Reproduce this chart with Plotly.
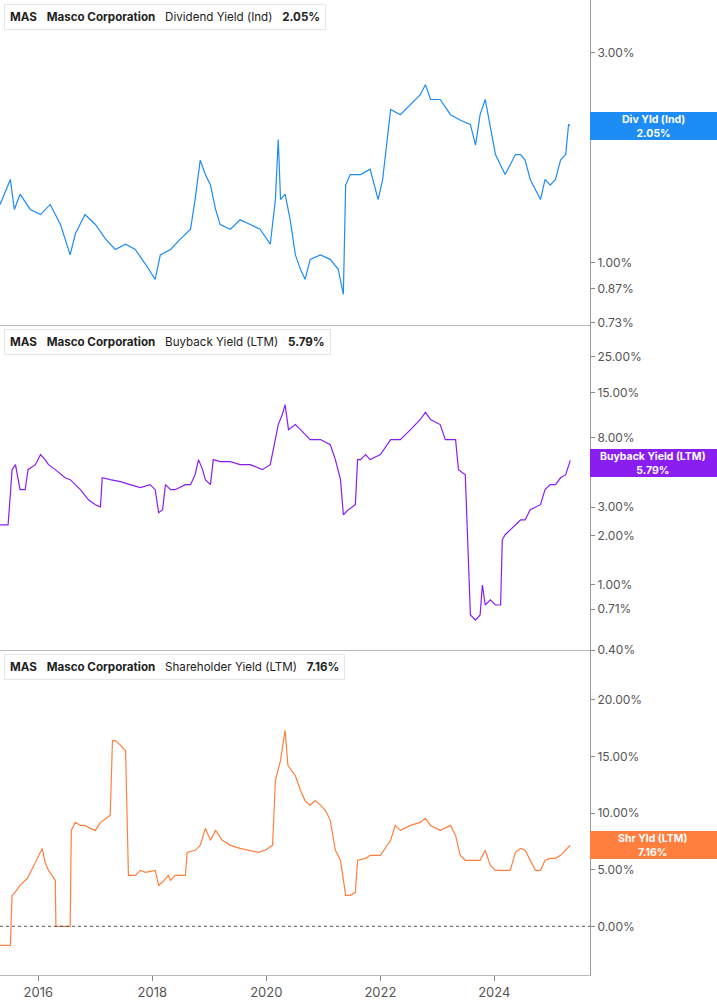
import math
import pandas as pd
import plotly.graph_objects as go
from plotly.subplots import make_subplots

def to_date(years):
    out = []
    for y in years:
        yr = int(y)
        start = pd.Timestamp(year=yr, month=1, day=1)
        out.append(start + pd.Timedelta(days=(y - yr) * 365.25))
    return out

div_t = [2015.33,2015.51,2015.58,2015.68,2015.86,2016.04,2016.21,2016.39,2016.56,2016.65,2016.82,2017.0,2017.18,2017.35,2017.53,2017.70,2017.88,2018.05,2018.14,2018.32,2018.49,2018.67,2018.75,2018.84,2018.93,2019.02,2019.11,2019.19,2019.37,2019.54,2019.72,2019.89,2020.07,2020.16,2020.21,2020.25,2020.33,2020.42,2020.51,2020.60,2020.68,2020.77,2020.95,2021.12,2021.26,2021.35,2021.39,2021.47,2021.65,2021.82,2021.96,2022.04,2022.12,2022.18,2022.35,2022.53,2022.70,2022.79,2022.88,2023.05,2023.23,2023.40,2023.58,2023.67,2023.75,2023.84,2023.93,2024.02,2024.19,2024.37,2024.46,2024.54,2024.63,2024.72,2024.81,2024.89,2024.98,2025.07,2025.16,2025.25,2025.30,2025.33]
div_v = [1.355,1.545,1.32,1.43,1.32,1.285,1.355,1.22,1.04,1.16,1.285,1.22,1.13,1.07,1.10,1.07,0.99,0.915,1.04,1.07,1.13,1.19,1.39,1.71,1.585,1.50,1.32,1.22,1.19,1.25,1.22,1.19,1.10,1.39,1.905,1.39,1.43,1.25,1.04,0.964,0.915,1.016,1.04,1.016,0.964,0.846,1.50,1.585,1.585,1.63,1.39,1.545,1.905,2.23,2.17,2.29,2.41,2.54,2.35,2.35,2.17,2.11,2.06,1.85,2.17,2.35,2.01,1.76,1.585,1.76,1.76,1.71,1.545,1.465,1.39,1.545,1.50,1.545,1.71,1.76,2.06,2.05]

bb_t = [2015.33,2015.47,2015.51,2015.54,2015.60,2015.68,2015.77,2015.82,2015.95,2016.04,2016.12,2016.18,2016.30,2016.47,2016.56,2016.65,2016.74,2016.88,2017.0,2017.09,2017.12,2017.26,2017.44,2017.61,2017.79,2017.96,2018.05,2018.11,2018.18,2018.23,2018.32,2018.40,2018.58,2018.67,2018.75,2018.81,2018.88,2018.93,2019.02,2019.07,2019.19,2019.37,2019.54,2019.72,2019.93,2020.07,2020.16,2020.21,2020.28,2020.33,2020.39,2020.51,2020.60,2020.77,2020.95,2021.12,2021.21,2021.30,2021.35,2021.44,2021.56,2021.60,2021.65,2021.74,2021.82,2022.0,2022.18,2022.35,2022.53,2022.70,2022.79,2022.88,2023.05,2023.14,2023.32,2023.37,2023.49,2023.58,2023.67,2023.75,2023.79,2023.84,2023.93,2024.02,2024.11,2024.14,2024.19,2024.28,2024.46,2024.54,2024.63,2024.81,2024.89,2024.98,2025.07,2025.16,2025.25,2025.33]
bb_v = [2.33,2.33,3.57,5.08,5.45,3.83,3.83,5.08,5.45,6.28,5.85,5.45,5.08,4.53,4.41,4.11,3.83,3.32,3.10,3.01,4.53,4.41,4.29,4.11,3.94,4.11,3.83,2.77,2.89,4.11,3.83,3.83,4.11,4.11,4.73,5.85,5.08,4.41,4.11,5.85,5.69,5.69,5.45,5.45,5.08,5.45,7.76,9.59,11.0,12.7,8.93,9.59,8.93,7.76,7.76,7.22,5.85,4.41,2.69,2.89,3.10,5.85,5.85,6.28,5.85,6.28,7.76,7.76,8.93,10.3,11.4,10.3,9.59,7.76,7.76,5.08,4.73,0.655,0.61,0.655,1.0,0.754,0.81,0.754,0.754,1.89,2.03,2.17,2.50,2.50,2.89,3.10,3.83,4.11,4.11,4.53,4.73,5.79]

sh_t = [2015.33,2015.51,2015.54,2015.58,2015.68,2015.81,2015.95,2016.07,2016.12,2016.18,2016.30,2016.31,2016.56,2016.58,2016.65,2016.74,2016.82,2016.91,2017.0,2017.09,2017.26,2017.30,2017.35,2017.44,2017.53,2017.58,2017.70,2017.79,2017.88,2018.05,2018.11,2018.18,2018.28,2018.32,2018.40,2018.58,2018.61,2018.75,2018.84,2018.93,2019.02,2019.11,2019.23,2019.37,2019.54,2019.72,2019.86,2019.98,2020.11,2020.16,2020.25,2020.33,2020.38,2020.51,2020.60,2020.68,2020.77,2020.86,2020.95,2021.04,2021.12,2021.21,2021.30,2021.39,2021.47,2021.56,2021.60,2021.74,2021.82,2022.0,2022.18,2022.26,2022.35,2022.53,2022.70,2022.79,2022.88,2023.05,2023.23,2023.32,2023.40,2023.49,2023.58,2023.75,2023.84,2023.93,2024.02,2024.19,2024.28,2024.37,2024.46,2024.54,2024.63,2024.72,2024.81,2024.89,2024.98,2025.07,2025.16,2025.25,2025.33]
sh_v = [-1.68,-1.68,2.74,2.91,3.62,4.24,5.65,6.88,5.65,4.94,4.06,0,0,8.47,9.18,8.91,8.91,8.65,8.47,9.18,9.80,16.4,16.4,16.0,15.5,4.50,4.50,4.94,4.77,4.94,3.62,3.91,4.50,4.06,4.50,4.50,6.53,6.71,7.15,8.65,7.59,8.47,7.59,7.15,6.88,6.71,6.53,6.71,7.15,12.9,14.65,17.3,14.2,13.3,12.0,11.1,10.7,11.1,10.7,10.2,9.36,6.71,5.83,2.74,2.74,3.0,5.83,6.0,6.27,6.27,7.59,8.91,8.47,8.91,9.18,9.53,8.91,8.47,8.91,8.03,6.27,5.83,5.83,5.83,6.71,5.38,4.94,4.94,4.94,6.53,6.88,6.71,5.83,4.94,4.94,5.83,6.0,6.0,6.27,6.71,7.16]

div_ticks = [0.73, 0.87, 1, 2, 3]
div_tick_text = ["0.73%", "0.87%", "1.00%", "2.00%", "3.00%"]
bb_ticks = [0.40, 0.71, 1, 2, 3, 8, 15, 25]
bb_tick_text = ["0.40%", "0.71%", "1.00%", "2.00%", "3.00%", "8.00%", "15.00%", "25.00%"]
sh_ticks = [0, 5, 10, 15, 20]
sh_tick_text = ["0.00%", "5.00%", "10.00%", "15.00%", "20.00%"]
x_tick_years = ["2016", "2018", "2020", "2022", "2024"]

BLUE = "#1e8cf5"
PURPLE = "#8a1ef0"
ORANGE = "#ff7f3f"

fig = make_subplots(rows=3, cols=1, shared_xaxes=True, vertical_spacing=0)
fig.add_trace(go.Scatter(x=to_date(div_t), y=div_v, mode="lines", line=dict(color=BLUE, width=1.2)), row=1, col=1)
fig.add_trace(go.Scatter(x=to_date(bb_t), y=bb_v, mode="lines", line=dict(color=PURPLE, width=1.2)), row=2, col=1)
fig.add_trace(go.Scatter(x=to_date(sh_t), y=sh_v, mode="lines", line=dict(color=ORANGE, width=1.2)), row=3, col=1)

axfont = dict(family="Inter, Roboto, sans-serif", size=12, color="#555")
common_y = dict(side="right", showgrid=False, zeroline=False, ticks="outside", ticklen=4,
                tickcolor="#888", showline=True, linecolor="#999", mirror=False, tickfont=axfont)
fig.update_yaxes(type="log", range=[math.log10(0.72), math.log10(3.96)], tickvals=div_ticks, ticktext=div_tick_text, **common_y, row=1, col=1)
fig.update_yaxes(type="log", range=[math.log10(0.40), math.log10(39)], tickvals=bb_ticks, ticktext=bb_tick_text, **common_y, row=2, col=1)
fig.update_yaxes(range=[-4.3, 24.4], tickvals=sh_ticks, ticktext=sh_tick_text, **common_y, row=3, col=1)

x0 = pd.Timestamp("2015-05-01"); x1 = pd.Timestamp("2025-09-05")
fig.update_xaxes(range=[x0, x1], showgrid=False, showline=True, linecolor="#bbb", zeroline=False)
fig.update_xaxes(tickvals=[pd.Timestamp(f"{y}-01-01") for y in x_tick_years], ticktext=x_tick_years,
                 ticks="outside", ticklen=5, tickcolor="#888",
                 tickfont=dict(family="Inter, Roboto, sans-serif", size=13, color="#555"), row=3, col=1)

fig.add_hline(y=0, line=dict(color="#555", width=1, dash="dot"), row=3, col=1)

H = 975.0
def py(p):
    return 1 - p / H

headers = [(4, "Dividend Yield (Ind)", "2.05%", BLUE),
           (329, "Buyback Yield (LTM)", "5.79%", PURPLE),
           (654, "Shareholder Yield (LTM)", "7.16%", ORANGE)]
for top, name, val, col in headers:
    fig.add_annotation(xref="paper", yref="paper", x=4/590, y=py(top), xanchor="left", yanchor="top",
                       text=f"<b>MAS</b>   <b>Masco Corporation</b>   {name}   <b>{val}</b>",
                       showarrow=False, align="left", bgcolor="white", bordercolor="#e6e6e6", borderwidth=1,
                       borderpad=5, font=dict(family="Inter, Roboto, sans-serif", size=11.6, color="#222"))
    fig.add_shape(type="rect", xref="paper", yref="paper", x0=4/590, x1=7/590, y0=py(top+26), y1=py(top+1),
                  fillcolor=col, line=dict(width=0))

labels = [(126, "Div Yld (Ind)", "2.05%", BLUE),
          (463, "Buyback Yield (LTM)", "5.79%", PURPLE),
          (845, "Shr Yld (LTM)", "7.16%", ORANGE)]
for c, name, val, col in labels:
    fig.add_shape(type="rect", xref="paper", yref="paper", x0=1, x1=717/590, y0=py(c+14), y1=py(c-14),
                  fillcolor=col, line=dict(width=0))
    fig.add_annotation(xref="paper", yref="paper", x=(590+63)/590, y=py(c), xanchor="center", yanchor="middle",
                       text=f"<b>{name}<br>{val}</b>", showarrow=False,
                       font=dict(family="Inter, Roboto, sans-serif", size=10.5, color="white"))

fig.update_layout(width=717, height=1005, margin=dict(l=0, r=127, t=0, b=30),
                  plot_bgcolor="white", paper_bgcolor="white", showlegend=False)
fig.write_html("out.html", config={"displayModeBar": False})

with open("out.html", "r", encoding="utf-8") as f:
    html = f.read()
html = html.replace("<body>", '<body style="margin:0;padding:0;overflow:hidden">', 1)
with open("out.html", "w", encoding="utf-8") as f:
    f.write(html)
